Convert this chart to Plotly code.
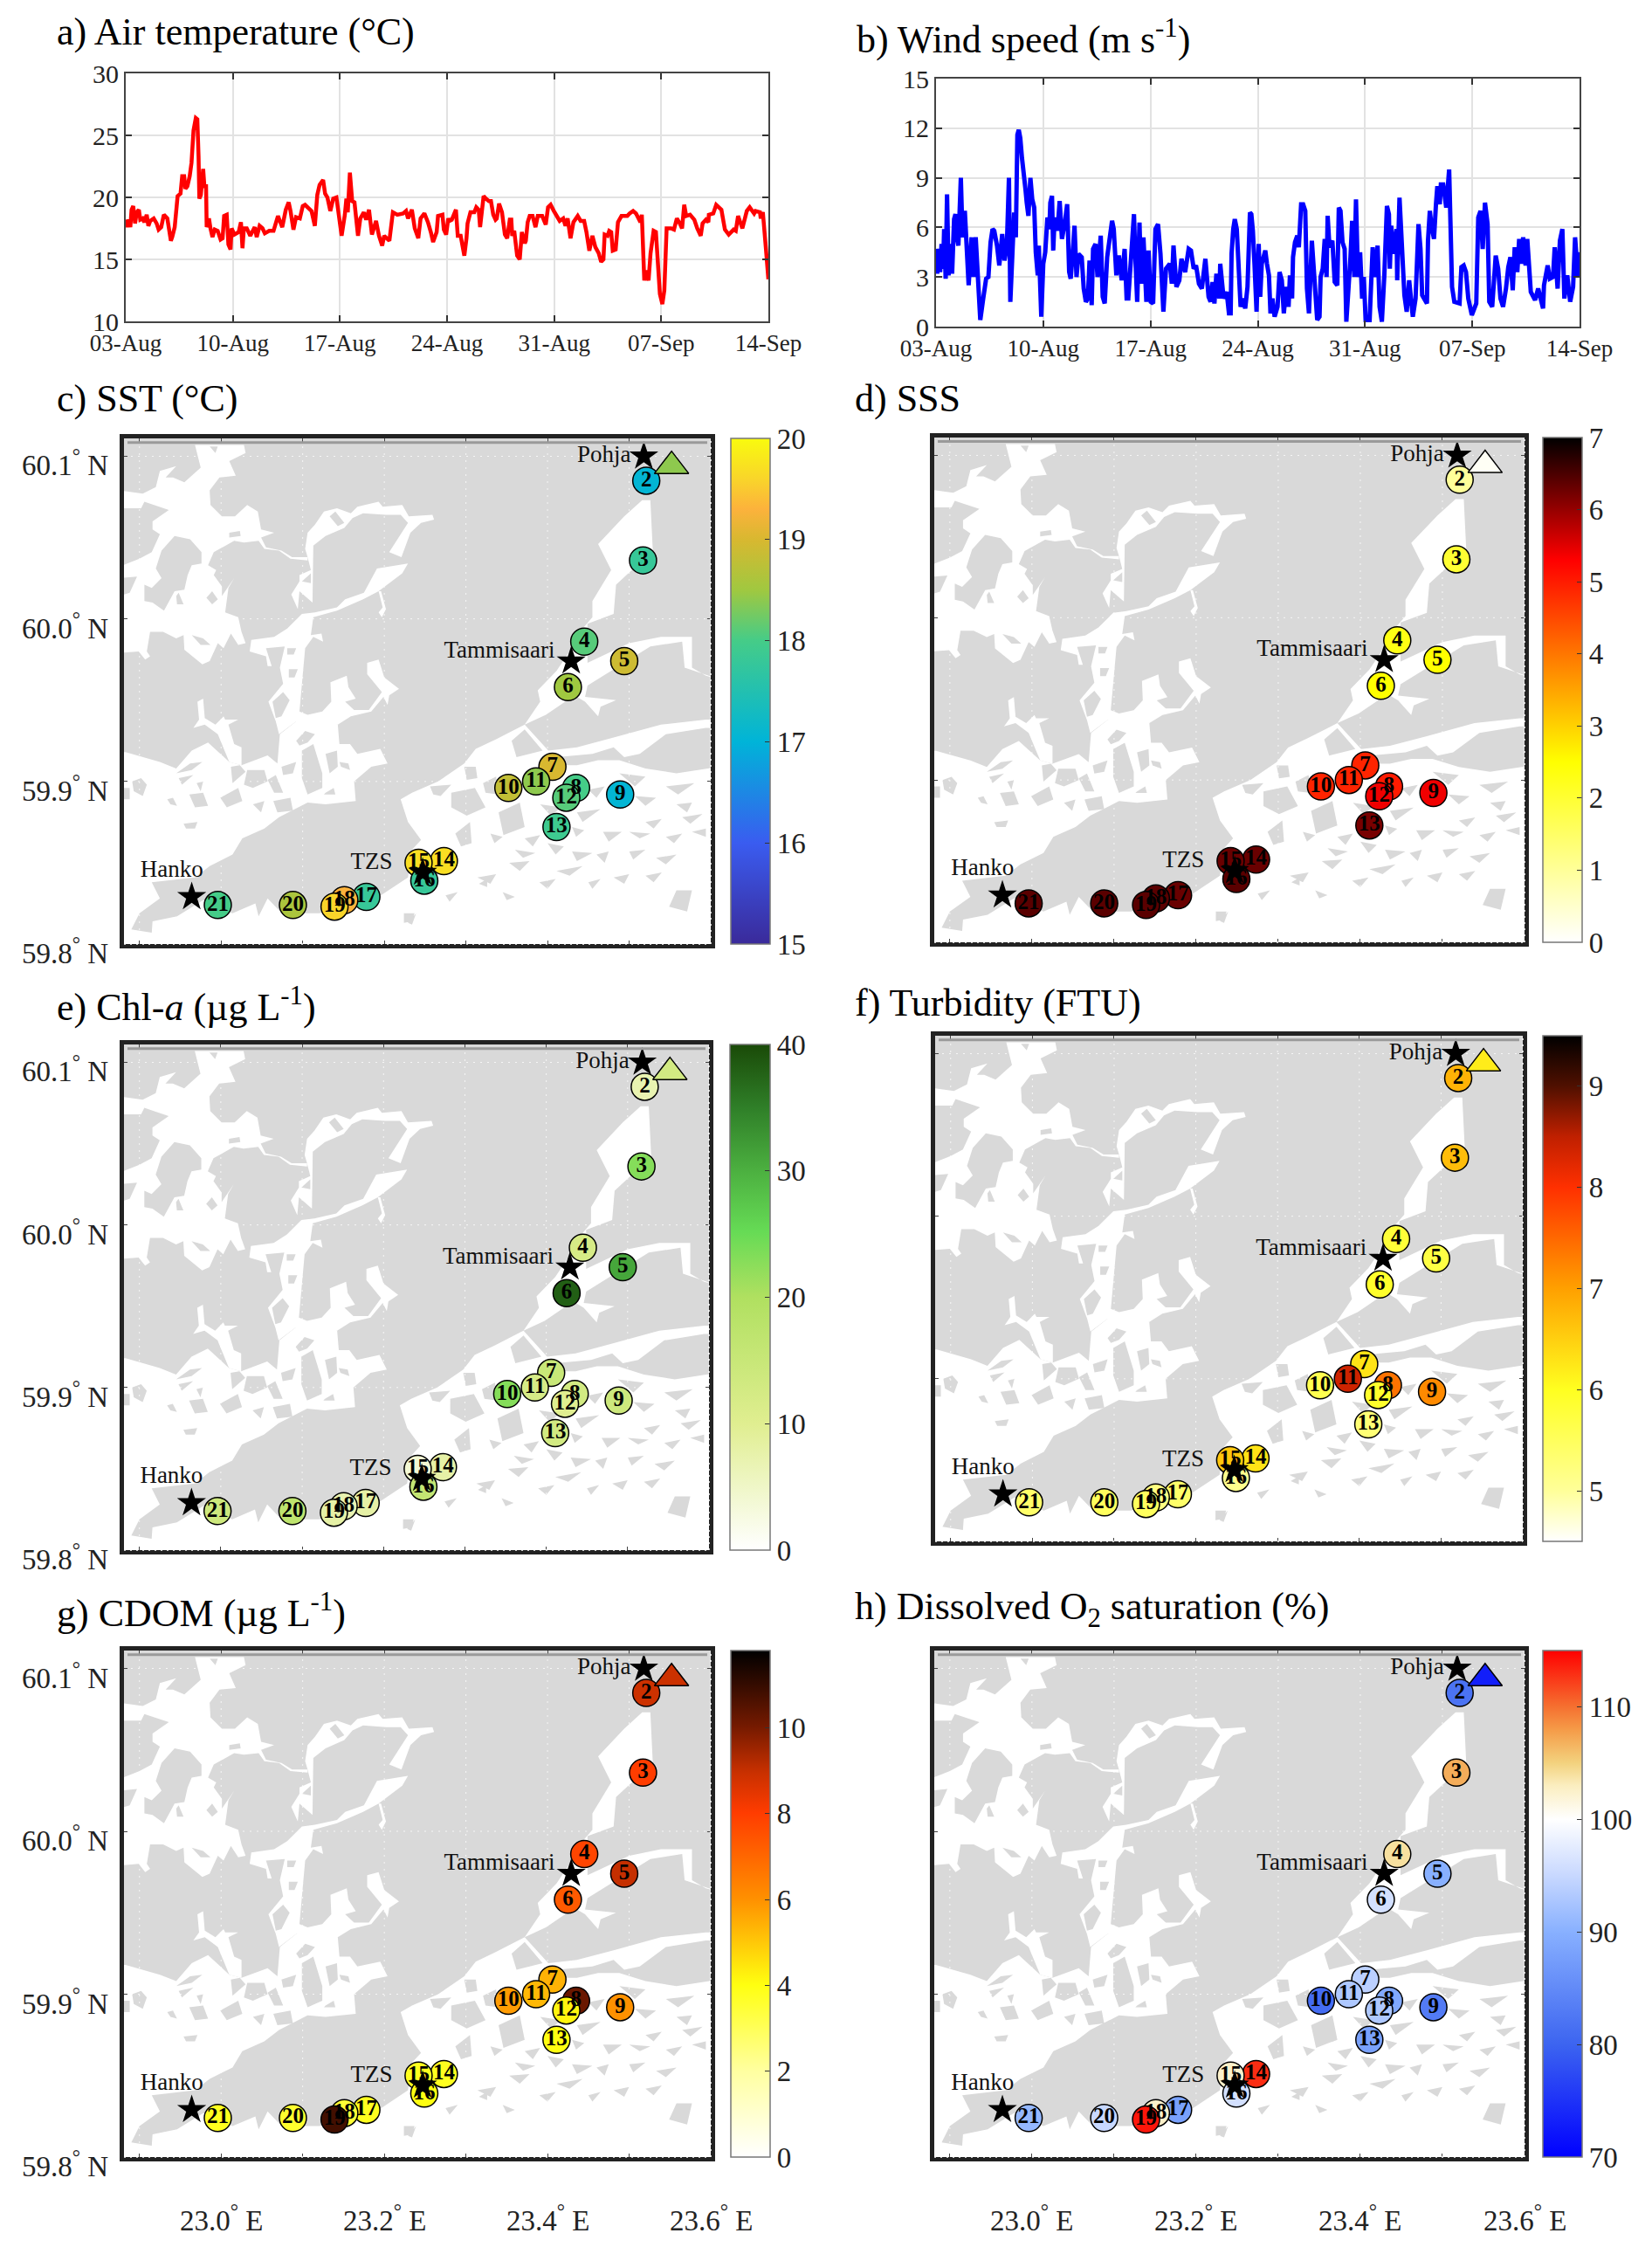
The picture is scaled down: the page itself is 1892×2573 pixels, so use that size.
import plotly.graph_objects as go

FONT = "Liberation Serif"
W, H = 1892, 2573
LAND = "#d9d9d9"

# ── Time series (days since 03-Aug) ───────────────────────────────────────────
DATE_TICKS = [0, 7, 14, 21, 28, 35, 42]
DATE_LABELS = ["03-Aug", "10-Aug", "17-Aug", "24-Aug", "31-Aug", "07-Sep", "14-Sep"]

AIR_DAY = [
    0.00, 0.11, 0.23, 0.30, 0.38, 0.49, 0.61, 0.72, 0.86, 0.95, 1.10, 1.22, 1.37, 1.48, 1.60, 1.83,
    2.02, 2.15, 2.32, 2.49, 2.72, 2.85, 2.95, 3.04, 3.20, 3.33, 3.39, 3.58, 3.69, 3.82, 3.90, 4.03,
    4.18, 4.30, 4.43, 4.58, 4.68, 4.76, 4.81, 4.91, 5.06, 5.14, 5.25, 5.29, 5.44, 5.54, 5.67, 5.82,
    6.01, 6.20, 6.33, 6.43, 6.60, 6.71, 6.85, 6.92, 7.10, 7.38, 7.53, 7.63, 7.72, 7.91, 8.14, 8.43,
    8.56, 8.75, 8.94, 9.09, 9.38, 9.66, 9.95, 10.23, 10.46, 10.65, 10.77, 10.96, 11.13, 11.38, 11.57,
    11.72, 12.14, 12.36, 12.52, 12.67, 12.90, 13.03, 13.18, 13.37, 13.56, 13.77, 13.94, 14.11, 14.32,
    14.42, 14.51, 14.65, 14.80, 14.95, 15.18, 15.33, 15.56, 15.71, 15.90, 16.09, 16.36, 16.55, 16.76,
    16.89, 17.23, 17.46, 17.75, 18.13, 18.32, 18.45, 18.70, 18.89, 19.12, 19.27, 19.52, 19.75, 19.94,
    20.09, 20.32, 20.41, 20.70, 20.79, 20.94, 21.08,
    21.16, 21.31, 21.58, 21.70, 21.89, 21.98, 22.13, 22.27, 22.34, 22.53, 22.78, 22.91, 23.07, 23.16,
    23.26, 23.39, 23.54, 23.73, 23.87, 24.02, 24.17, 24.25, 24.40, 24.59, 24.78, 24.93, 25.10, 25.20,
    25.26, 25.39, 25.58, 25.75, 25.89, 26.08, 26.15, 26.27, 26.40, 26.59, 26.78, 26.93, 27.22, 27.45,
    27.60, 27.77, 27.98, 28.36, 28.59, 28.74, 28.88, 29.07, 29.26, 29.54, 29.73, 29.96, 30.11, 30.30,
    30.50, 30.69, 30.91, 31.07, 31.22, 31.30, 31.49, 31.60, 31.73, 31.83, 32.02, 32.17, 32.40, 32.59,
    32.78, 32.93, 33.16, 33.35, 33.64, 33.73, 33.89, 34.02, 34.17, 34.30, 34.50, 34.65, 34.78, 34.91,
    35.07, 35.20, 35.35, 35.64, 35.83, 36.02, 36.21, 36.36, 36.50, 36.63, 36.88, 37.16, 37.35, 37.58,
    37.70, 37.92, 38.08, 38.11, 38.40, 38.59, 38.93, 39.16, 39.41, 39.73, 39.87, 40.02, 40.30, 40.59,
    40.78, 41.07, 41.16, 41.45, 41.50, 41.64, 41.83, 42.00,
]
AIR_T = [
    18.2, 17.6, 18.2, 17.6, 19.0, 19.3, 17.9, 18.8, 19.0, 18.2, 18.3, 18.0, 18.6, 17.7, 18.1, 18.3,
    17.9, 17.4, 17.6, 18.6, 18.3, 17.4, 16.5, 16.8, 17.6, 19.3, 20.1, 20.3, 21.7, 21.7, 20.7, 20.9,
    21.7, 22.8, 25.4, 26.4, 26.3, 23.3, 19.9, 20.2, 22.3, 20.9, 20.9, 17.6, 18.3, 17.5, 16.8, 17.4,
    17.3, 16.6, 16.7, 18.5, 18.6, 16.2, 15.8, 17.5, 17.0, 17.2, 18.0, 15.9, 17.5, 17.5, 16.9, 17.6,
    16.8, 17.7, 17.5, 17.1, 17.3, 17.3, 18.5, 17.6, 19.0, 19.6, 18.9, 17.4, 18.4, 18.3, 19.3,
    19.4, 18.9, 17.7, 20.2, 21.0, 21.4, 20.3, 20.0, 18.9, 19.9, 20.0, 18.1, 16.9, 18.6,
    19.9, 18.8, 22.0, 19.7, 19.6, 16.9, 18.3, 18.8, 18.2, 19.0, 17.0, 18.1, 16.9, 16.1,
    16.9, 16.5, 18.8, 18.6, 18.7, 18.9, 18.3, 19.0, 17.5, 16.7, 18.3, 18.7, 18.0, 17.2,
    16.4, 17.2, 18.5, 18.6, 17.4, 17.0, 18.3,
    18.1, 18.2, 19.0, 16.9, 16.9, 16.1, 15.3, 16.7, 17.9, 18.8, 18.8, 19.2, 19.0, 17.6,
    18.6, 20.1, 19.9, 19.7, 19.7, 18.6, 18.2, 18.3, 19.5, 18.8, 17.0, 16.7, 18.2, 18.2,
    16.9, 17.3, 15.3, 15.0, 17.2, 16.3, 16.5, 18.0, 18.5, 18.5, 17.6, 18.5, 18.5, 17.8,
    19.2, 19.4, 18.9, 18.1, 18.3, 17.7, 18.3, 16.7, 18.0, 18.5, 18.1, 18.1, 17.2, 15.7,
    16.9, 16.0, 15.5, 14.8, 15.0, 17.0, 16.9, 17.3, 17.2, 15.7, 15.8, 18.0, 18.5, 18.5,
    18.5, 18.7, 18.9, 18.7, 18.0, 18.6, 13.3, 14.1, 13.3, 15.5, 17.3, 17.2, 14.1, 12.2,
    11.4, 12.5, 17.5, 17.5, 17.4, 18.3, 17.9, 17.5, 19.4, 18.5, 18.6, 18.2, 17.5, 16.9,
    17.9, 18.2, 18.0, 18.6, 18.7, 19.4, 19.0, 17.4, 17.0, 17.4, 17.3, 18.5, 17.5, 18.9,
    19.2, 18.7, 18.9, 18.8, 18.3, 18.8, 16.0, 13.4,
]

WIND_DAY = [
    0.00, 0.08, 0.17, 0.27, 0.36, 0.46, 0.53, 0.63, 0.72, 0.82, 0.93, 1.05, 1.18, 1.27, 1.37, 1.46,
    1.62, 1.73, 1.88, 2.00, 2.13, 2.32, 2.45, 2.59, 2.76, 2.89, 3.08, 3.27, 3.42, 3.56, 3.69, 3.80,
    3.98, 4.13, 4.32, 4.47, 4.62, 4.76, 4.85, 4.98, 5.10, 5.21, 5.31, 5.40, 5.50, 5.61, 5.73, 5.84,
    5.92, 6.03, 6.16, 6.28, 6.41, 6.51, 6.64, 6.71, 6.87, 7.00, 7.13, 7.27, 7.40, 7.46, 7.57, 7.65,
    7.74, 7.93, 8.07, 8.22, 8.41, 8.56, 8.69, 8.79, 8.92, 9.04, 9.17, 9.30, 9.51, 9.64, 9.78, 9.91,
    10.02, 10.16, 10.25, 10.41, 10.54, 10.75, 10.88, 11.01, 11.17, 11.32, 11.49, 11.60, 11.77, 11.93,
    12.12, 12.31, 12.44, 12.55, 12.76, 12.92, 12.99, 13.13, 13.28, 13.39, 13.54, 13.73, 13.87, 14.02,
    14.17, 14.32, 14.49, 14.65, 14.84, 15.01, 15.26, 15.39, 15.50, 15.69, 15.88, 16.02, 16.26, 16.49,
    16.64, 16.82, 16.97, 17.16, 17.35, 17.58, 17.79, 17.92, 18.05, 18.17, 18.30, 18.49, 18.55, 18.77,
    18.97, 19.12, 19.23, 19.29, 19.40, 19.50, 19.63, 19.76, 19.88, 20.03, 20.18, 20.33, 20.49, 20.58,
    20.68, 20.79, 20.92, 21.06,
    21.16, 21.26, 21.49, 21.60, 21.73, 21.83, 21.96, 22.10, 22.29, 22.42, 22.57, 22.70, 22.86, 23.01,
    23.10, 23.24, 23.30, 23.43, 23.58, 23.68, 23.83, 23.96, 24.10, 24.21, 24.34, 24.53, 24.65, 24.88,
    25.03, 25.10, 25.24, 25.37, 25.49, 25.56, 25.68, 25.87, 26.02, 26.19, 26.29, 26.40, 26.53, 26.67,
    26.78, 26.93, 27.05, 27.16, 27.30, 27.41, 27.54, 27.68, 27.81, 27.92, 28.04, 28.30, 28.50, 28.69,
    28.82, 28.95, 29.10, 29.26, 29.43, 29.56, 29.62, 29.71, 29.87, 30.06, 30.10, 30.25, 30.38, 30.50,
    30.57, 30.72, 30.88, 31.12, 31.30, 31.49, 31.62, 31.73, 32.04, 32.11, 32.23, 32.34, 32.50, 32.63,
    32.72, 32.88, 32.95, 33.10, 33.30, 33.49, 33.62, 33.68, 33.83, 34.17, 34.29, 34.44, 34.59, 34.74,
    34.97, 35.26, 35.39, 35.54, 35.68, 35.83, 36.00, 36.11, 36.30, 36.53, 36.69, 36.84, 37.01, 37.20,
    37.35, 37.49, 37.64, 37.77, 37.94, 38.06, 38.21, 38.32, 38.48, 38.59, 38.82, 39.10, 39.30, 39.62,
    39.68, 39.92, 40.06, 40.27, 40.38, 40.57, 40.72, 40.88, 41.01, 41.20, 41.39, 41.58, 41.71, 41.90,
    42.00,
]
WIND_V = [
    4.7, 3.2, 4.7, 3.3, 5.0, 3.5, 5.9, 2.9, 8.0, 3.1, 5.0, 3.2, 6.5, 6.8, 5.4, 4.9,
    9.0, 5.4, 7.0, 4.7, 2.5, 5.4, 3.0, 5.4, 1.9, 0.4, 1.7, 2.9, 3.0, 5.1, 5.9, 5.8,
    4.9, 3.7, 5.6, 4.0, 4.8, 9.0, 1.5, 4.0, 6.9, 5.4, 11.6, 11.9, 11.4, 10.2, 8.8, 8.3,
    7.5, 6.7, 9.0, 7.7, 7.2, 4.5, 3.1, 4.9, 0.6, 3.8, 4.5, 6.6, 5.9, 7.5, 7.9, 4.6,
    6.6, 5.8, 7.6, 5.3, 6.3, 7.4, 3.3, 2.9, 4.4, 6.1, 3.0, 4.4, 4.2, 2.3, 1.5, 1.7,
    4.0, 1.3, 4.7, 5.0, 3.0, 5.5, 1.8, 1.4, 4.2, 5.2, 6.4, 5.9, 3.1, 4.3,
    2.8, 4.7, 1.7, 1.7, 4.7, 6.8, 4.7, 1.5, 6.3, 2.6, 5.4, 1.5, 4.6, 1.5,
    1.4, 5.9, 6.2, 4.4, 0.9, 3.5, 3.8, 2.6, 4.9, 2.4, 2.8, 4.1, 3.3, 4.7,
    4.6, 3.5, 3.7, 2.6, 2.3, 4.1, 1.8, 1.5, 2.7, 1.4, 3.2, 1.7, 3.8, 1.7,
    2.1, 0.8, 0.8, 4.4, 5.9, 6.5, 5.9, 3.3, 1.2, 1.7, 1.1, 2.4, 6.9, 6.8,
    5.8, 3.7, 0.9, 5.0,
    1.8, 3.8, 4.6, 3.8, 3.1, 0.8, 1.7, 0.6, 1.2, 3.3, 2.8, 0.8, 2.4, 1.2,
    3.1, 1.7, 4.2, 5.1, 5.5, 4.8, 7.4, 7.4, 7.0, 2.3, 0.8, 5.2, 3.3, 0.4,
    0.6, 3.0, 3.5, 5.3, 3.0, 6.7, 4.8, 5.2, 2.7, 2.5, 7.2, 7.0, 5.1, 4.7,
    0.3, 2.1, 4.2, 6.4, 3.0, 7.7, 3.0, 4.5, 1.7, 3.0, 0.4, 0.4, 4.8, 3.0,
    4.9, 1.2, 0.3, 3.1, 7.3, 6.8, 3.5, 6.1, 4.4, 5.9, 2.8, 7.8, 5.4, 4.2,
    1.9, 0.9, 2.8, 0.6, 1.7, 6.2, 4.7, 1.9, 1.4, 5.2, 7.0, 6.1, 5.3, 7.4,
    8.5, 7.4, 8.6, 8.6, 7.2, 9.5, 4.7, 2.4, 1.5, 1.4, 3.6, 3.7, 3.3, 1.7,
    0.7, 1.4, 6.6, 7.0, 4.7, 7.5, 6.2, 1.5, 1.2, 4.3, 3.5, 1.7, 1.2, 2.3,
    3.6, 4.2, 2.2, 4.8, 3.3, 5.3, 3.8, 5.4, 3.7, 5.3, 2.1, 1.6, 2.3, 1.1,
    2.5, 3.7, 2.9, 3.0, 4.8, 2.3, 5.2, 5.9, 1.7, 3.1, 1.5, 2.4, 5.4, 3.0,
    4.5,
]

# ── Map outline, lon/lat ──────────────────────────────────────────────────────
LON_RANGE = [22.881, 23.60]
LAT_RANGE = [59.80, 60.111]
LON_TICKS = [23.0, 23.2, 23.4, 23.6]
LAT_TICKS = [59.8, 59.9, 60.0, 60.1]
LON_GRID = [22.9, 23.0, 23.1, 23.2, 23.3, 23.4, 23.5, 23.6]
LAT_GRID = [59.9, 60.0, 60.1]
LAND_RECT = [(22.875, 59.79), (23.61, 59.79), (23.61, 60.12), (22.875, 60.12)]

SEA = [
    (22.883, 59.918), (22.913, 59.914), (22.925, 59.912), (22.945, 59.908), (22.964, 59.919), (22.984, 59.924),
    (23.010, 59.912), (23.025, 59.910), (23.057, 59.916), (23.069, 59.911), (23.072, 59.929), (23.092, 59.937),
    (23.106, 59.939), (23.135, 59.937), (23.143, 59.935), (23.145, 59.923), (23.158, 59.923), (23.167, 59.917),
    (23.195, 59.920), (23.204, 59.911), (23.184, 59.909), (23.163, 59.900), (23.165, 59.888), (23.128, 59.886),
    (23.106, 59.887), (23.071, 59.878), (23.053, 59.871), (23.026, 59.865), (23.014, 59.855), (22.986, 59.848),
    (22.968, 59.841), (22.915, 59.838), (22.925, 59.828), (22.900, 59.819), (22.890, 59.809), (22.915, 59.807),
    (22.916, 59.814), (22.946, 59.817), (22.978, 59.827), (23.014, 59.819), (23.042, 59.825), (23.046, 59.817),
    (23.057, 59.828), (23.078, 59.817), (23.088, 59.819), (23.120, 59.819), (23.174, 59.823), (23.199, 59.831),
    (23.229, 59.841), (23.234, 59.858), (23.245, 59.864), (23.229, 59.875), (23.220, 59.889), (23.234, 59.893),
    (23.266, 59.900), (23.298, 59.911), (23.312, 59.920), (23.337, 59.926), (23.372, 59.935), (23.401, 59.919),
    (23.436, 59.921), (23.481, 59.927), (23.539, 59.935), (23.594, 59.938), (23.61, 59.938), (23.61, 59.79),
    (22.875, 59.79), (22.875, 59.918),
]
NW_WATERS = [
    (22.875, 60.079), (22.904, 60.077), (22.920, 60.081), (22.925, 60.091), (22.945, 60.094), (22.932, 60.087),
    (22.941, 60.087), (22.955, 60.084), (22.975, 60.093), (22.968, 60.107), (23.028, 60.107), (23.030, 60.102),
    (23.010, 60.097), (23.018, 60.088), (22.998, 60.087), (22.986, 60.079), (22.987, 60.070), (23.001, 60.063),
    (23.017, 60.063), (23.032, 60.070), (23.045, 60.066), (23.049, 60.055), (23.065, 60.053), (23.049, 60.050),
    (23.055, 60.044), (23.074, 60.042), (23.087, 60.038), (23.106, 60.038), (23.106, 60.036), (23.085, 60.037),
    (23.071, 60.042), (23.053, 60.043), (23.046, 60.048), (23.028, 60.047), (23.016, 60.048), (22.991, 60.041),
    (22.984, 60.033), (22.994, 60.030), (22.991, 60.027), (23.001, 60.020), (23.001, 60.014), (23.016, 60.025),
    (23.009, 60.019), (23.005, 60.004), (23.021, 60.001), (23.025, 59.992), (23.030, 59.985), (23.021, 59.984),
    (23.012, 59.991), (23.003, 59.982), (22.996, 59.985), (22.986, 59.974), (22.977, 59.972), (22.955, 59.981),
    (22.954, 59.990), (22.945, 59.988), (22.929, 59.992), (22.913, 59.992), (22.909, 59.980), (22.913, 59.977),
    (22.907, 59.975), (22.899, 59.980), (22.875, 59.979),
]
MID_CHANNEL = [
    (23.229, 60.034), (23.191, 60.031), (23.175, 60.016), (23.152, 60.012), (23.142, 60.007), (23.115, 60.004),
    (23.099, 60.003), (23.081, 59.994), (23.065, 59.989), (23.037, 59.987), (23.035, 59.980), (23.055, 59.977),
    (23.057, 59.971), (23.062, 59.971), (23.055, 59.982), (23.078, 59.983), (23.072, 59.970), (23.076, 59.960),
    (23.058, 59.949), (23.067, 59.937), (23.071, 59.929), (23.092, 59.937), (23.143, 59.935), (23.159, 59.940),
    (23.184, 59.943), (23.199, 59.952), (23.204, 59.947), (23.206, 59.953), (23.218, 59.957), (23.200, 59.964),
    (23.193, 59.975), (23.179, 59.973), (23.179, 59.966), (23.197, 59.955), (23.181, 59.944), (23.163, 59.944),
    (23.152, 59.949), (23.165, 59.951), (23.156, 59.958), (23.154, 59.965), (23.134, 59.961), (23.135, 59.949),
    (23.124, 59.943), (23.106, 59.941), (23.096, 59.943), (23.103, 59.982), (23.113, 59.989), (23.125, 59.986),
    (23.123, 59.991), (23.110, 59.990), (23.113, 60.001), (23.142, 60.005), (23.174, 60.012), (23.193, 60.017),
    (23.222, 60.028),
]
MID_TAIL = [(23.193, 60.017), (23.198, 60.007), (23.193, 60.004), (23.197, 60.001), (23.202, 60.006), (23.196, 60.017)]
NE_ARM = [
    (23.103, 60.043), (23.106, 60.053), (23.115, 60.058), (23.126, 60.066), (23.142, 60.068), (23.159, 60.065),
    (23.167, 60.069), (23.193, 60.072), (23.198, 60.069), (23.222, 60.070), (23.230, 60.063), (23.259, 60.064),
    (23.261, 60.061), (23.245, 60.059), (23.232, 60.053), (23.221, 60.038), (23.206, 60.041), (23.229, 60.059),
    (23.220, 60.064), (23.202, 60.064), (23.174, 60.065), (23.161, 60.062), (23.151, 60.056), (23.128, 60.051),
    (23.113, 60.045), (23.112, 60.010), (23.096, 60.017), (23.094, 60.006), (23.086, 60.015), (23.096, 60.023),
    (23.096, 60.027), (23.110, 60.030), (23.106, 60.038),
]
SW_BRANCH = [
    (22.971, 59.949), (22.978, 59.951), (22.980, 59.939), (22.993, 59.935), (23.003, 59.940), (23.005, 59.938),
    (23.021, 59.938), (23.009, 59.935), (23.016, 59.923), (23.025, 59.921), (23.025, 59.910), (23.010, 59.912),
    (22.996, 59.929), (22.980, 59.935), (22.966, 59.933), (22.973, 59.938),
]
POHJA_BAY = [
    (23.372, 59.935), (23.391, 59.949), (23.388, 59.956), (23.411, 59.968), (23.427, 59.980), (23.443, 59.994),
    (23.455, 60.001), (23.455, 60.011), (23.478, 60.030), (23.462, 60.046), (23.494, 60.063), (23.516, 60.073),
    (23.526, 60.073), (23.529, 60.042), (23.484, 60.021), (23.481, 60.003), (23.449, 59.997), (23.449, 59.973),
    (23.500, 59.985), (23.539, 59.989), (23.577, 59.989), (23.577, 59.970), (23.594, 59.965), (23.61, 59.963),
    (23.568, 59.970), (23.565, 59.986), (23.526, 59.983), (23.449, 59.959), (23.446, 59.952), (23.484, 59.950),
    (23.465, 59.946), (23.462, 59.940), (23.446, 59.949), (23.433, 59.953), (23.398, 59.941),
]
WATERS = [SEA, NW_WATERS, MID_CHANNEL, MID_TAIL, NE_ARM, SW_BRANCH, POHJA_BAY]

ISLANDS = [
    [(22.875, 60.068), (22.902, 60.068), (22.906, 60.072), (22.936, 60.067), (22.916, 60.060), (22.916, 60.055),
     (22.925, 60.052), (22.915, 60.041), (22.900, 60.037), (22.875, 60.032)],
    [(22.920, 60.031), (22.927, 60.042), (22.943, 60.051), (22.962, 60.049), (22.976, 60.041), (22.976, 60.034),
     (22.964, 60.033), (22.959, 60.027), (22.955, 60.018), (22.943, 60.017), (22.930, 60.005), (22.916, 60.010),
     (22.906, 60.011), (22.906, 60.021), (22.915, 60.019), (22.927, 60.025)],
    [(22.945, 60.014), (22.948, 60.016), (22.954, 60.009), (22.946, 60.009)],
    [(22.982, 60.013), (22.989, 60.017), (22.996, 60.012), (22.989, 60.009)],
    [(23.010, 60.053), (23.023, 60.054), (23.024, 60.051), (23.010, 60.050)],
    [(22.964, 59.990), (22.978, 59.988), (22.987, 59.984), (22.975, 59.984)],
    [(22.986, 60.106), (22.996, 60.106), (22.993, 60.102)],
    [(22.875, 60.025), (22.897, 60.026), (22.888, 60.016), (22.875, 60.014)],
    [(23.140, 60.066), (23.151, 60.059), (23.143, 60.057), (23.133, 60.063)],
    [(23.099, 60.023), (23.110, 60.028), (23.110, 60.022)],
    [(23.063, 59.949), (23.076, 59.955), (23.084, 59.950), (23.074, 59.940), (23.067, 59.939)],
    [(23.081, 59.982), (23.092, 59.982), (23.089, 59.978), (23.081, 59.978)],
    [(23.083, 59.969), (23.094, 59.969), (23.090, 59.964), (23.083, 59.964)],
    [(22.891, 59.900), (22.902, 59.902), (22.909, 59.898), (22.904, 59.891), (22.893, 59.894)],
    [(22.945, 59.905), (22.962, 59.911), (22.977, 59.912), (22.964, 59.907)],
    [(22.961, 59.892), (22.978, 59.893), (22.984, 59.885), (22.968, 59.884)],
    [(22.934, 59.889), (22.941, 59.890), (22.946, 59.885), (22.938, 59.886)],
    [(22.948, 59.902), (22.966, 59.904), (22.952, 59.898)],
    [(23.012, 59.909), (23.023, 59.910), (23.030, 59.906), (23.014, 59.899)],
    [(23.057, 59.901), (23.067, 59.904), (23.076, 59.893), (23.065, 59.893)],
    [(22.970, 59.899), (22.978, 59.900), (22.975, 59.894)],
    [(23.074, 59.909), (23.092, 59.912), (23.088, 59.905), (23.076, 59.904)],
    [(23.064, 59.888), (23.085, 59.890), (23.088, 59.882), (23.069, 59.881)],
    [(23.099, 59.919), (23.113, 59.923), (23.124, 59.905), (23.124, 59.896), (23.106, 59.892), (23.099, 59.902)],
    [(23.092, 59.925), (23.103, 59.931), (23.115, 59.929), (23.106, 59.924), (23.096, 59.922)],
    [(23.128, 59.893), (23.138, 59.896), (23.140, 59.892), (23.126, 59.892)],
    [(23.145, 59.912), (23.156, 59.911), (23.158, 59.907), (23.147, 59.909)],
    [(23.032, 59.907), (23.053, 59.907), (23.057, 59.900), (23.039, 59.896), (23.028, 59.898)],
    [(22.999, 59.890), (23.021, 59.896), (23.026, 59.888), (23.007, 59.884)],
    [(22.954, 59.874), (22.971, 59.875), (22.968, 59.871), (22.957, 59.871)],
    [(22.875, 59.896), (22.888, 59.896), (22.888, 59.889), (22.875, 59.889)],
    [(23.039, 59.886), (23.053, 59.888), (23.049, 59.881)],
    [(23.128, 59.917), (23.142, 59.919), (23.143, 59.909), (23.133, 59.905)],
    [(23.356, 59.925), (23.372, 59.932), (23.394, 59.919), (23.362, 59.915)],
    [(23.411, 59.915), (23.455, 59.917), (23.481, 59.921), (23.494, 59.915), (23.513, 59.917), (23.545, 59.929),
     (23.594, 59.933), (23.61, 59.933), (23.61, 59.909), (23.558, 59.905), (23.520, 59.908), (23.488, 59.913),
     (23.462, 59.913), (23.436, 59.910), (23.411, 59.910)],
    [(23.298, 59.909), (23.312, 59.909), (23.314, 59.902), (23.301, 59.901)],
    [(23.287, 59.868), (23.305, 59.875), (23.307, 59.862), (23.294, 59.860)],
    [(23.229, 59.813), (23.239, 59.819), (23.234, 59.812)],
    [(23.316, 59.837), (23.326, 59.840), (23.326, 59.835)],
    [(23.282, 59.893), (23.311, 59.896), (23.324, 59.884), (23.301, 59.879), (23.282, 59.884)],
    [(23.256, 59.897), (23.282, 59.898), (23.269, 59.891), (23.260, 59.892)],
    [(23.340, 59.881), (23.366, 59.887), (23.372, 59.872), (23.346, 59.867)],
    [(23.321, 59.899), (23.337, 59.903), (23.340, 59.892), (23.324, 59.893)],
    [(23.436, 59.881), (23.465, 59.883), (23.443, 59.875)],
    [(23.507, 59.891), (23.533, 59.890), (23.520, 59.885)],
    [(23.558, 59.886), (23.577, 59.887), (23.571, 59.881)],
    [(23.488, 59.905), (23.520, 59.903), (23.507, 59.897)],
    [(23.314, 59.841), (23.337, 59.843), (23.330, 59.837)],
    [(23.224, 59.819), (23.237, 59.819), (23.234, 59.814), (23.224, 59.813)],
    [(23.558, 59.833), (23.577, 59.833), (23.571, 59.820), (23.549, 59.823)],
    [(23.500, 59.869), (23.526, 59.868), (23.513, 59.865)],
    [(23.577, 59.869), (23.594, 59.871), (23.594, 59.866)],
    [(23.430, 59.857), (23.455, 59.856), (23.436, 59.851)],
    [(23.353, 59.850), (23.378, 59.851), (23.366, 59.845)],
    [(23.468, 59.869), (23.491, 59.869), (23.475, 59.863)],
    [(23.533, 59.853), (23.558, 59.855), (23.545, 59.849)],
    [(23.372, 59.865), (23.391, 59.867), (23.382, 59.860)],
    [(23.411, 59.845), (23.443, 59.848), (23.427, 59.842)],
    [(23.481, 59.841), (23.500, 59.843), (23.494, 59.837)],
    [(23.391, 59.886), (23.417, 59.884), (23.404, 59.879)],
    [(23.330, 59.868), (23.345, 59.866), (23.335, 59.862)],
    [(23.360, 59.858), (23.385, 59.856), (23.370, 59.853)],
    [(23.400, 59.862), (23.420, 59.860), (23.410, 59.855)],
    [(23.430, 59.872), (23.445, 59.870), (23.435, 59.866)],
    [(23.460, 59.855), (23.475, 59.857), (23.470, 59.850)],
    [(23.500, 59.857), (23.520, 59.858), (23.505, 59.852)],
    [(23.545, 59.866), (23.565, 59.868), (23.555, 59.862)],
    [(23.520, 59.875), (23.540, 59.877), (23.530, 59.871)],
    [(23.565, 59.878), (23.590, 59.880), (23.575, 59.874)],
    [(23.345, 59.832), (23.360, 59.829), (23.350, 59.827)],
    [(23.390, 59.838), (23.410, 59.840), (23.400, 59.834)],
    [(23.450, 59.838), (23.465, 59.840), (23.455, 59.834)],
    [(23.520, 59.842), (23.540, 59.844), (23.530, 59.838)],
    [(23.275, 59.830), (23.290, 59.832), (23.280, 59.826)],
    [(23.545, 59.897), (23.580, 59.899), (23.560, 59.892)],
    [(23.450, 59.895), (23.470, 59.897), (23.460, 59.890)],
]

# ── Stations ──────────────────────────────────────────────────────────────────
STATION_IDS = [str(i) for i in range(2, 22)]
STATION_LON = [23.521, 23.517, 23.445, 23.494, 23.425, 23.406, 23.435, 23.489, 23.352, 23.386,
               23.423, 23.411, 23.273, 23.242, 23.249, 23.178, 23.151, 23.139, 23.088, 22.996]
STATION_LAT = [60.085, 60.036, 59.986, 59.974, 59.958, 59.909, 59.896, 59.892, 59.896, 59.900,
               59.890, 59.872, 59.851, 59.850, 59.839, 59.829, 59.827, 59.823, 59.824, 59.824]
RIVER_LON = [23.552]
RIVER_LAT = [60.094]

TOWN_NAMES = ["Pohja", "Tammisaari", "TZS", "Hanko"]
TOWN_LON = [23.518, 23.429, 23.247, 22.964]
TOWN_LAT = [60.100, 59.974, 59.844, 59.829]
NAME_LON = [23.502, 23.409, 23.210, 22.978]
NAME_LAT = [60.100, 59.980, 59.850, 59.845]

# first value of each list is the triangle (station 1)
SST = [18.4, 17.05, 17.8, 18.1, 18.9, 18.5, 19.0, 18.0, 17.05, 18.8, 18.4, 18.1, 17.9, 19.7, 19.7, 17.8, 17.8, 19.3, 19.6, 18.6, 18.0]
SSS = [0.1, 1.0, 2.0, 2.3, 2.5, 2.5, 4.9, 5.0, 5.4, 4.9, 4.9, 5.4, 6.2, 6.3, 6.3, 6.4, 6.3, 6.4, 6.4, 6.4, 6.4]
CHL = [13, 7, 23, 12, 31, 38, 15, 13, 14, 23, 12, 10, 13, 8, 4, 16, 8, 7, 8, 17, 14]
TURB = [6.2, 6.8, 6.7, 5.8, 5.7, 5.9, 6.3, 7.4, 7.2, 5.6, 8.4, 5.9, 5.3, 6.3, 6.6, 5.1, 5.4, 5.2, 5.5, 5.5, 5.4]
CDOM = [8.9, 8.9, 8.0, 7.8, 9.0, 7.3, 5.4, 10.2, 6.0, 5.8, 5.3, 4.2, 4.0, 3.8, 3.8, 4.0, 3.8, 3.5, 10.8, 3.6, 3.8]
O2 = [73, 82, 107, 104, 90, 96, 94, 89, 83, 81, 93, 93, 88, 113, 102.5, 96, 88, 102.5, 114, 95, 91]

# ── Colour scales ─────────────────────────────────────────────────────────────
PARULA = [[0, "#3a2a9a"], [0.2, "#3a5cf0"], [0.4, "#00b4d8"], [0.6, "#45cc88"], [0.7, "#a0c840"],
          [0.8, "#d8b830"], [0.86, "#fcb23c"], [0.92, "#f9d52a"], [1, "#f9fb0e"]]
SSS_SCALE = [[0, "#ffffff"], [0.357, "#ffff00"], [0.757, "#ff0000"], [1, "#000000"]]
TURB_SCALE = [[0, "#ffffff"], [0.1, "#ffff99"], [0.3, "#ffff20"], [0.5, "#ffa000"], [0.7, "#ff3000"],
              [0.8, "#c02000"], [0.9, "#501000"], [1, "#000000"]]
CDOM_SCALE = [[0, "#ffffff"], [0.17, "#ffffa0"], [0.34, "#ffff10"], [0.51, "#ff9000"], [0.68, "#ff3c00"],
              [0.76, "#c83000"], [0.85, "#751a00"], [1, "#000000"]]
GREENS = [[0, "#ffffff"], [0.25, "#e0ee90"], [0.5, "#b0e060"], [0.63, "#66db55"], [0.75, "#4cb040"],
          [0.875, "#2f7f28"], [1, "#1a4a08"]]
BWR = [[0, "#0000ff"], [0.222, "#3c64f0"], [0.444, "#88b0ff"], [0.556, "#c8d8ff"], [0.667, "#ffffff"],
       [0.733, "#fbeec0"], [0.778, "#f3d27e"], [0.844, "#f59b48"], [0.889, "#f57030"], [1, "#ff0000"]]

# panel: title, values, colour scale, z range, colour bar ticks, box (l, r, t, b), bar (l, r), labels
MAPS = [
    dict(title="c) SST (°C)", vals=SST, scale=PARULA, zr=[15, 20], ticks=[15, 16, 17, 18, 19, 20],
         box=(142, 814, 502, 1081), bar=(837, 882), title_xy=(63, 456), left=True, bottom=False),
    dict(title="d) SSS", vals=SSS, scale=SSS_SCALE, zr=[0, 7], ticks=[0, 1, 2, 3, 4, 5, 6, 7],
         box=(1070, 1746, 501, 1079), bar=(1767, 1812), title_xy=(977, 456), left=False, bottom=False),
    dict(title="e) Chl-<i>a</i> (µg L<sup>-1</sup>)", vals=CHL, scale=GREENS, zr=[0, 40], ticks=[0, 10, 20, 30, 40],
         box=(142, 812, 1196, 1775), bar=(836, 882), title_xy=(63, 1150), left=True, bottom=False),
    dict(title="f) Turbidity (FTU)", vals=TURB, scale=TURB_SCALE, zr=[4.5, 9.5], ticks=[5, 6, 7, 8, 9],
         box=(1071, 1744, 1186, 1765), bar=(1767, 1812), title_xy=(977, 1148), left=False, bottom=False),
    dict(title="g) CDOM (µg L<sup>-1</sup>)", vals=CDOM, scale=CDOM_SCALE, zr=[0, 11.8], ticks=[0, 2, 4, 6, 8, 10],
         box=(142, 814, 1890, 2470), bar=(837, 882), title_xy=(63, 1844), left=True, bottom=True),
    dict(title="h) Dissolved O<sub>2</sub> saturation (%)", vals=O2, scale=BWR, zr=[70, 115], ticks=[70, 80, 90, 100, 110],
         box=(1070, 1746, 1890, 2470), bar=(1767, 1812), title_xy=(977, 1842), left=False, bottom=True),
]


def dom_x(l, r):
    return [l / W, r / W]


def dom_y(t, b):
    return [1 - b / H, 1 - t / H]


fig = go.Figure()
annotations = []
shapes = []


def add_title(text, x, y):
    annotations.append(dict(text=text, xref="paper", yref="paper", x=x / W, y=1 - y / H, xanchor="left",
                            yanchor="middle", showarrow=False, font=dict(family=FONT, size=44, color="black")))


# ── a, b: time series ─────────────────────────────────────────────────────────
series = [
    dict(title="a) Air temperature (°C)", x=AIR_DAY, y=AIR_T, color="#ff0000", lw=4.5, box=(144, 880, 84, 368),
         yr=[10, 30], yt=[10, 15, 20, 25, 30], title_xy=(63, 37)),
    dict(title="b) Wind speed (m s<sup>-1</sup>)", x=WIND_DAY, y=WIND_V, color="#0000ff", lw=5, box=(1072, 1809, 90, 374),
         yr=[0, 15], yt=[0, 3, 6, 9, 12, 15], title_xy=(979, 43)),
]
for i, s in enumerate(series, start=1):
    fig.add_trace(go.Scatter(x=s["x"], y=s["y"], mode="lines", line=dict(color=s["color"], width=s["lw"]),
                             xaxis=f"x{i}", yaxis=f"y{i}", hoverinfo="skip"))
    l, r, t, b = s["box"]
    fig.update_layout(**{
        f"xaxis{i}": dict(domain=dom_x(l, r), anchor=f"y{i}", range=[0, 42], tickvals=DATE_TICKS, ticktext=DATE_LABELS,
                          showgrid=True, gridcolor="#e2e2e2", gridwidth=1.5, zeroline=False, ticks="inside", ticklen=7,
                          tickwidth=2, tickcolor="#333", showline=True, linecolor="#444", linewidth=2, mirror="ticks",
                          tickfont=dict(family=FONT, size=27, color="#222")),
        f"yaxis{i}": dict(domain=dom_y(t, b), anchor=f"x{i}", range=s["yr"], tickvals=s["yt"],
                          showgrid=True, gridcolor="#e2e2e2", gridwidth=1.5, zeroline=False, ticks="inside", ticklen=7,
                          tickwidth=2, tickcolor="#333", showline=True, linecolor="#444", linewidth=2, mirror="ticks",
                          tickfont=dict(family=FONT, size=30, color="#222")),
    })
    add_title(s["title"], *s["title_xy"])


# ── c–h: station maps ─────────────────────────────────────────────────────────
def polygon_trace(points, color, ax):
    lon = [p[0] for p in points]
    lat = [p[1] for p in points]
    return go.Scatter(x=lon, y=lat, mode="lines", fill="toself", fillcolor=color, line=dict(width=0, color=color),
                      xaxis=f"x{ax}", yaxis=f"y{ax}", hoverinfo="skip")


for n, m in enumerate(MAPS):
    ax = n + 3
    ca = f"coloraxis{n + 1}" if n else "coloraxis"
    kw = dict(xaxis=f"x{ax}", yaxis=f"y{ax}", hoverinfo="skip")

    fig.add_trace(polygon_trace(LAND_RECT, LAND, ax))
    for water in WATERS:
        fig.add_trace(polygon_trace(water, "white", ax))

    # islands go in one trace, they do not overlap each other
    isl_lon, isl_lat = [], []
    for isl in ISLANDS:
        isl_lon += [p[0] for p in isl] + [None]
        isl_lat += [p[1] for p in isl] + [None]
    fig.add_trace(go.Scatter(x=isl_lon, y=isl_lat, mode="lines", fill="toself", fillcolor=LAND,
                             line=dict(width=0, color=LAND), **kw))

    # dotted graticule sits on top of the land
    g_lon, g_lat = [], []
    for v in LON_GRID:
        g_lon += [v, v, None]
        g_lat += [LAT_RANGE[0], LAT_RANGE[1], None]
    for v in LAT_GRID:
        g_lon += [LON_RANGE[0], LON_RANGE[1], None]
        g_lat += [v, v, None]
    fig.add_trace(go.Scatter(x=g_lon, y=g_lat, mode="lines", line=dict(color="white", width=1, dash="2px,6px"),
                             opacity=0.8, **kw))

    fig.add_trace(go.Scatter(x=STATION_LON, y=STATION_LAT, mode="markers+text", text=[f"<b>{s}</b>" for s in STATION_IDS],
                             textposition="middle center", textfont=dict(family=FONT, size=25, color="black"),
                             marker=dict(size=31, color=m["vals"][1:], coloraxis=ca, line=dict(color="black", width=1.5)),
                             **kw))
    fig.add_trace(go.Scatter(x=RIVER_LON, y=RIVER_LAT, mode="markers",
                             marker=dict(size=34, symbol="triangle-up", color=m["vals"][:1], coloraxis=ca,
                                         line=dict(color="black", width=1.5)), **kw))
    fig.add_trace(go.Scatter(x=TOWN_LON, y=TOWN_LAT, mode="markers",
                             marker=dict(size=25, symbol="star", color="black", line=dict(width=0)), **kw))
    fig.add_trace(go.Scatter(x=NAME_LON, y=NAME_LAT, mode="text", text=TOWN_NAMES, textposition="middle left",
                             textfont=dict(family=FONT, size=27, color="#111"), **kw))

    l, r, t, b = m["box"]
    fig.update_layout(**{
        f"xaxis{ax}": dict(domain=dom_x(l, r), anchor=f"y{ax}", range=LON_RANGE, showgrid=False, zeroline=False,
                           tickvals=LON_GRID, showticklabels=False, ticks="inside", ticklen=4, tickcolor="#444",
                           showline=True, linecolor="#222", linewidth=5, mirror="ticks"),
        f"yaxis{ax}": dict(domain=dom_y(t, b), anchor=f"x{ax}", range=LAT_RANGE, showgrid=False, zeroline=False,
                           tickvals=LAT_GRID, showticklabels=False, ticks="inside", ticklen=4, tickcolor="#444",
                           showline=True, linecolor="#222", linewidth=5, mirror="ticks"),
        ca: dict(colorscale=m["scale"], cmin=m["zr"][0], cmax=m["zr"][1],
                 colorbar=dict(x=m["bar"][0] / W, xanchor="left", xpad=0, y=1 - b / H, yanchor="bottom", ypad=0,
                               len=(b - t) / H, lenmode="fraction", thickness=m["bar"][1] - m["bar"][0],
                               thicknessmode="pixels", tickvals=m["ticks"], ticks="inside", ticklen=6, tickcolor="#333",
                               tickprefix="\u00a0", outlinecolor="#777", outlinewidth=1.5,
                               tickfont=dict(family=FONT, size=33, color="#222"))),
    })
    add_title(m["title"], *m["title_xy"])

    # speckled frame edges: dotted white on the bottom and right, pale stripe under the top
    xd, yd = f"x{ax} domain", f"y{ax} domain"
    dots = dict(color="white", width=1.5, dash="2px,5px")
    shapes.append(dict(type="line", xref=xd, yref=yd, x0=0, x1=1, y0=0, y1=0, line=dots, layer="above"))
    shapes.append(dict(type="line", xref=xd, yref=yd, x0=1, x1=1, y0=0, y1=1, line=dots, layer="above"))
    shapes.append(dict(type="line", xref=xd, yref=yd, x0=0.006, x1=0.994, y0=0.992, y1=0.992,
                       line=dict(color="#9a9a9a", width=3), layer="above"))

    if m["left"]:
        for v in LAT_TICKS:
            annotations.append(dict(text=f"{v:.1f}<sup>°</sup> N", xref=f"x{ax} domain", x=0, yref=f"y{ax}", y=v,
                                    xanchor="right", yanchor="middle", xshift=-16, yshift=-8, showarrow=False,
                                    font=dict(family=FONT, size=33, color="#222")))
    if m["bottom"]:
        for v in LON_TICKS:
            annotations.append(dict(text=f"{v:.1f}<sup>°</sup> E", xref=f"x{ax}", x=v, yref=f"y{ax} domain", y=0,
                                    xanchor="center", yanchor="top", yshift=-47, xshift=0, showarrow=False,
                                    font=dict(family=FONT, size=33, color="#222")))

fig.update_layout(width=W, height=H, autosize=False, margin=dict(l=0, r=0, t=0, b=0, autoexpand=False),
                  paper_bgcolor="white", plot_bgcolor="white", showlegend=False, annotations=annotations,
                  shapes=shapes, font=dict(family=FONT))

fig.write_html("out.html", config=dict(displayModeBar=False), post_script="document.body.style.margin='0';")
